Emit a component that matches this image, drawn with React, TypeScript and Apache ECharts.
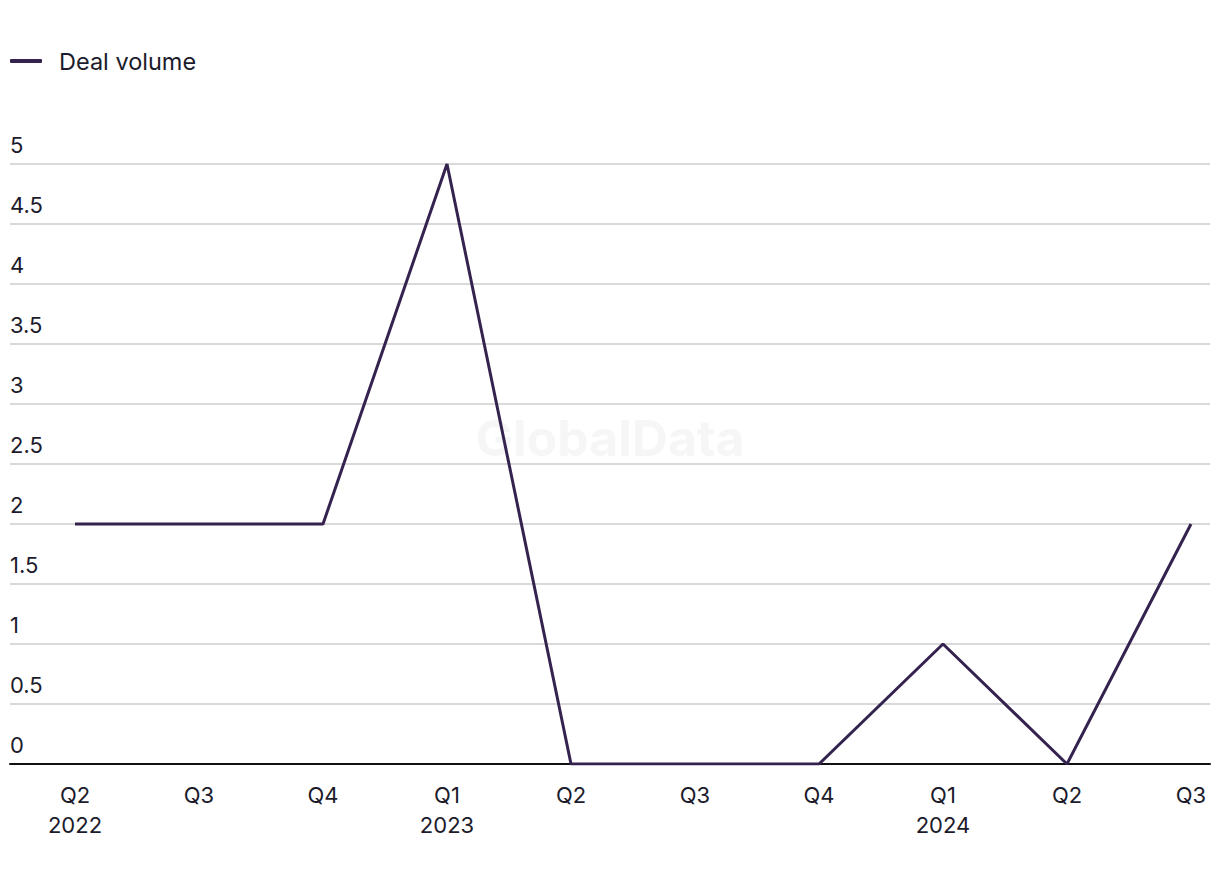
import React, { useEffect, useRef } from "react";
import * as echarts from "echarts";

const categories = ["Q2\n2022", "Q3", "Q4", "Q1\n2023", "Q2", "Q3", "Q4", "Q1\n2024", "Q2", "Q3"];
const dealVolume = [2, 2, 2, 5, 0, 0, 0, 1, 0, 2];
const seriesName = "Deal volume";

const FONT = "Inter, 'Liberation Sans', sans-serif";
const TEXT = "#1c1b2b";
const LINE = "#35234f";

export default function App() {
  const ref = useRef<HTMLDivElement>(null);
  useEffect(() => {
    if (!ref.current) return;
    const chart = echarts.init(ref.current, undefined, { renderer: "svg" });
    chart.setOption({
      animation: false,
      textStyle: { fontFamily: FONT },
      graphic: [
        {
          type: "text",
          left: "center",
          top: 413,
          z: 0,
          silent: true,
          style: { text: "GlobalData", fontFamily: FONT, fontSize: 50, fontWeight: "bold", fill: "#f6f6f6" },
        },
      ],
      legend: {
        left: 5,
        top: 44,
        icon: "roundRect",
        itemWidth: 32,
        itemHeight: 4,
        itemGap: 20,
        textStyle: { fontFamily: FONT, fontSize: 23.5, color: TEXT, padding: [0, 0, 0, 12] },
        data: [seriesName],
      },
      grid: [
        { left: 75, right: 29, top: 164, bottom: 120 },
        { left: 10, right: 10, top: 164, bottom: 120 },
      ],
      xAxis: [
        {
          type: "category",
          gridIndex: 0,
          data: categories,
          boundaryGap: false,
          axisLine: { show: false },
          axisTick: { show: false },
          axisLabel: { color: TEXT, fontSize: 22, fontFamily: FONT, lineHeight: 30, margin: 16 },
        },
        {
          type: "value",
          gridIndex: 1,
          min: 0,
          max: 1,
          axisLine: { show: true, onZero: false, lineStyle: { color: "#111", width: 2 } },
          axisTick: { show: false },
          axisLabel: { show: false },
          splitLine: { show: false },
        },
      ],
      yAxis: [
        {
          type: "value",
          gridIndex: 0,
          min: 0,
          max: 5,
          interval: 0.5,
          axisLine: { show: false },
          axisTick: { show: false },
          axisLabel: { show: false },
          splitLine: { show: false },
        },
        {
          type: "value",
          gridIndex: 1,
          min: 0,
          max: 5,
          interval: 0.5,
          axisLine: { show: false },
          axisTick: { show: false },
          axisLabel: {
            inside: true,
            margin: 0,
            align: "left",
            verticalAlign: "bottom",
            padding: [0, 0, 8, 0],
            color: TEXT,
            fontSize: 22,
            fontFamily: FONT,
          },
          splitLine: { show: true, lineStyle: { color: "#d9d9d9", width: 2 } },
        },
      ],
      series: [
        {
          name: seriesName,
          type: "line",
          xAxisIndex: 0,
          yAxisIndex: 0,
          data: dealVolume,
          showSymbol: false,
          symbol: "none",
          z: 5,
          lineStyle: { color: LINE, width: 3 },
          itemStyle: { color: LINE },
        },
      ],
    });
    return () => chart.dispose();
  }, []);
  return <div ref={ref} style={{ width: 1220, height: 884, margin: -8 }} />;
}
